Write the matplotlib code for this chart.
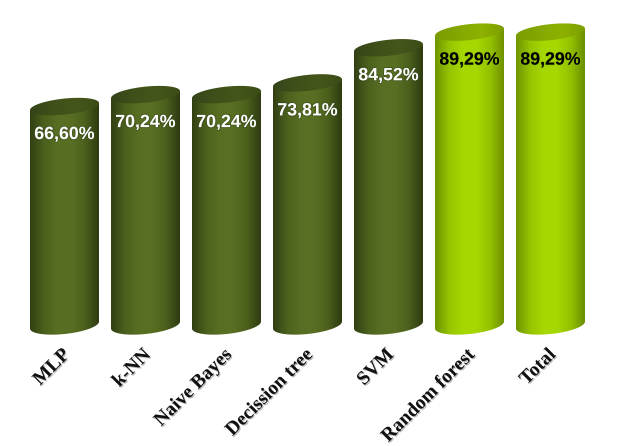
"""Cylinder bar chart of classifier accuracy."""

import matplotlib

matplotlib.use("Agg")

import matplotlib.patheffects as pe
import matplotlib.pyplot as plt
import numpy as np
from matplotlib.colors import LinearSegmentedColormap
from matplotlib.patches import Polygon
from matplotlib.transforms import ScaledTranslation

categories = ["MLP", "k-NN", "Naive Bayes", "Decission tree", "SVM", "Random forest", "Total"]
values = [66.60, 70.24, 70.24, 73.81, 84.52, 89.29, 89.29]
value_labels = ["66,60%", "70,24%", "70,24%", "73,81%", "84,52%", "89,29%", "89,29%"]
highlighted = [False, False, False, False, False, True, True]

DARK_BODY = ["#323f13", "#4b611d", "#586f23", "#586f23", "#4b601c", "#2f3b11"]
DARK_TOP = ["#36451a", "#3f5019", "#45561b", "#3c4c17"]
LIGHT_BODY = ["#6f9500", "#96c400", "#a6d800", "#a6d800", "#94c000", "#6b8f00"]
LIGHT_TOP = ["#7a9c00", "#84a800", "#8eb200", "#7c9e00"]

W, H = 620, 446
PX_PER_UNIT = 3.28
BASE_Y = 325
AXES_BOTTOM = 345
BAR_WIDTH = 69 / 81


def ellipse_points(cx, cy, half_w, half_h, tilt, start=0.0, stop=2 * np.pi):
    t = np.linspace(start, stop, 90)
    return np.column_stack(
        [cx + half_w * np.cos(t), cy + tilt * np.cos(t) + half_h * np.sin(t)]
    )


def gradient_fill(ax, cmap, extent, clip, zorder):
    grad = np.linspace(0, 1, 128).reshape(1, -1)
    im = ax.imshow(grad, cmap=cmap, extent=extent, aspect="auto", zorder=zorder)
    clip.set_transform(ax.transData)
    clip.set_facecolor("none")
    clip.set_edgecolor("none")
    ax.add_patch(clip)
    im.set_clip_path(clip)


fig = plt.figure(figsize=(W / 100, H / 100), dpi=100, facecolor="white")
ax = fig.add_axes([0, (H - AXES_BOTTOM) / H, 1, AXES_BOTTOM / H])

x = np.arange(len(categories))
bars = ax.bar(x, values, width=BAR_WIDTH, color="none", linewidth=0)

maps = {
    "dark_body": LinearSegmentedColormap.from_list("dark_body", DARK_BODY),
    "dark_top": LinearSegmentedColormap.from_list("dark_top", DARK_TOP),
    "light_body": LinearSegmentedColormap.from_list("light_body", LIGHT_BODY),
    "light_top": LinearSegmentedColormap.from_list("light_top", LIGHT_TOP),
}

half_h_top = 8 / PX_PER_UNIT
half_h_bottom = 9 / PX_PER_UNIT
tilt = 3.5 / PX_PER_UNIT

for bar, hot in zip(bars, highlighted):
    left = bar.get_x()
    right = left + bar.get_width()
    cx = left + bar.get_width() / 2
    top = bar.get_height()
    half_w = bar.get_width() / 2
    name = "light" if hot else "dark"

    # body: down the left side, round the front of the base, up the right side
    arc = ellipse_points(cx, 0, half_w, half_h_bottom, tilt, np.pi, 2 * np.pi)
    body = np.vstack([[[left, top - tilt]], arc, [[right, top + tilt]]])
    extent = (left, right, -half_h_bottom - tilt, top + half_h_top + tilt)
    gradient_fill(ax, maps[name + "_body"], extent, Polygon(body, closed=True), 2)

    cap = ellipse_points(cx, top, half_w, half_h_top, tilt)
    gradient_fill(ax, maps[name + "_top"], extent, Polygon(cap, closed=True), 3)

for xi, val, label, hot in zip(x, values, value_labels, highlighted):
    ax.annotate(
        label,
        (xi, val),
        xytext=(0, -28 * 72 / 100),
        textcoords="offset points",
        ha="center",
        va="center",
        fontsize=12.8,
        fontweight="bold",
        family="Liberation Sans",
        color="black" if hot else "white",
        zorder=5,
        path_effects=[
            pe.withStroke(linewidth=1.2, foreground="#8fc000" if hot else "#36451a", alpha=0.6)
        ],
    )

ax.set_xlim(-64.5 / 81, (W - 64.5) / 81)
ax.set_ylim((BASE_Y - AXES_BOTTOM) / PX_PER_UNIT, BASE_Y / PX_PER_UNIT)
ax.set_yticks([])
ax.set_xticks(x)
ax.set_xticklabels(
    categories,
    rotation=45,
    ha="right",
    va="top",
    rotation_mode="anchor",
    fontsize=14,
    fontweight="bold",
    family="Liberation Serif",
    color="#111111",
    path_effects=[pe.withSimplePatchShadow(offset=(0.8, -0.8), shadow_rgbFace="#999999", alpha=0.7)],
)
ax.tick_params(axis="x", length=0, pad=0)
# has to come after tick_params, which resets the label transforms
shift = ScaledTranslation(-3 / 100, -1 / 100, fig.dpi_scale_trans)
for tick_label in ax.get_xticklabels():
    tick_label.set_transform(tick_label.get_transform() + shift)
for spine in ax.spines.values():
    spine.set_visible(False)
ax.patch.set_alpha(0)

fig.savefig("out.png", dpi=100, facecolor="white")
plt.close(fig)
